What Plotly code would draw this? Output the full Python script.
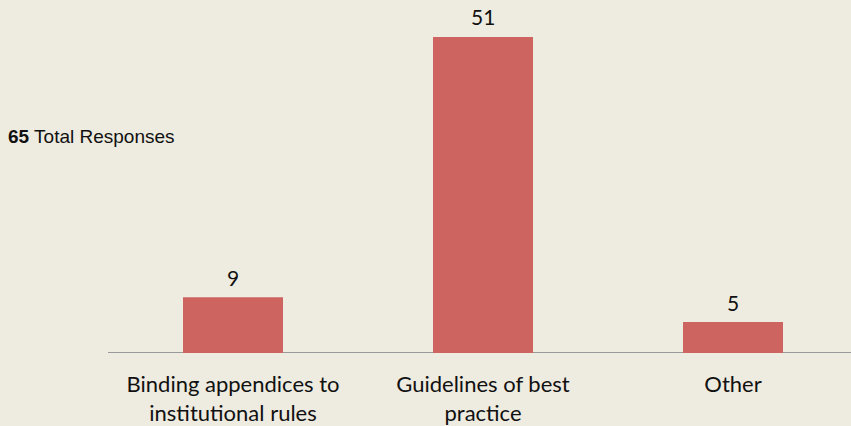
import plotly.graph_objects as go

categories = ["Binding appendices to<br>institutional rules", "Guidelines of best<br>practice", "Other"]
values = [9, 51, 5]
total_responses = 65

bar_color = "#CD645F"
bg = "#EEEBE0"
font_cat = "Lato, Open Sans, sans-serif"

fig = go.Figure()
fig.add_trace(go.Bar(
    x=list(range(len(categories))), y=values, width=0.4,
    marker=dict(color=bar_color, line=dict(width=0)),
    hoverinfo="skip",
))

for i, v in enumerate(values):
    fig.add_annotation(x=i, y=v, text=str(v), showarrow=False, yanchor="middle",
                       yshift=20, font=dict(family=font_cat, size=21, color="#111111"))

fig.add_annotation(xref="paper", yref="paper", x=-0.137, y=0.632, xanchor="left", yanchor="middle",
                   text=f"<b>{total_responses}</b> Total Responses", showarrow=False,
                   font=dict(family="Liberation Sans, Arial, sans-serif", size=19, color="#111"))

fig.update_layout(
    width=851, height=426,
    margin=dict(l=108, r=0, t=10, b=68),
    paper_bgcolor=bg, plot_bgcolor=bg,
    showlegend=False,
    xaxis=dict(range=[-0.5, 2.472], tickvals=list(range(len(categories))), ticktext=categories,
               showgrid=False, zeroline=False, showline=False, ticks="",
               tickfont=dict(family=font_cat, size=22, color="#111111"),
               ticklabelstandoff=16),
    yaxis=dict(range=[0, 55.34], visible=False, showgrid=False, zeroline=False),
    shapes=[dict(type="line", xref="paper", yref="y", x0=0, x1=1, y0=0, y1=0,
                 line=dict(color="#9a9a9a", width=2), layer="below")],
)

fig.write_html("out.html", config={"displayModeBar": False},
               post_script="document.body.style.margin='0';document.body.style.background='#EEEBE0';")
